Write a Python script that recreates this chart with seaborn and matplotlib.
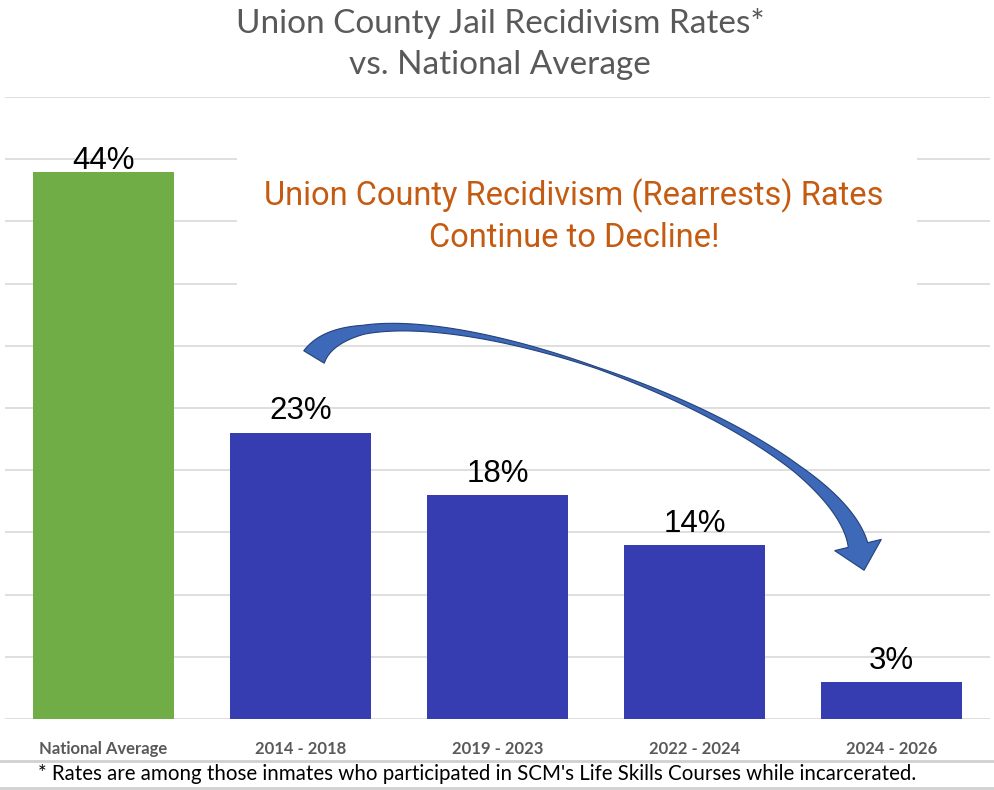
import numpy as np
import pandas as pd
import matplotlib
matplotlib.use('Agg')
import matplotlib.pyplot as plt
from matplotlib.patches import Polygon, Rectangle
from matplotlib.lines import Line2D
import seaborn as sns

# data
categories = ['National Average', '2014 - 2018', '2019 - 2023', '2022 - 2024', '2024 - 2026']
rates = [44, 23, 18, 14, 3]
groups = ['national', 'county', 'county', 'county', 'county']
bar_colors = {'national': '#70AD47', 'county': '#363DB0'}

title = 'Union County Jail Recidivism Rates*\nvs. National Average'
callout = 'Union County Recidivism (Rearrests) Rates\nContinue to Decline!'
footnote = "* Rates are among those inmates who participated in SCM's Life Skills Courses while incarcerated."

# gap (px) between each value label baseline and its bar top
label_gap = [3, 14, 13, 13, 13]

W, H = 994, 790


def fx(x):
    return x / W


def fy(y):
    return 1 - y / H


sns.set_theme(style='white')
plt.rcParams['font.family'] = ['Lato', 'DejaVu Sans']

df = pd.DataFrame({'period': categories, 'rate': rates, 'group': groups})

fig = plt.figure(figsize=(W / 100, H / 100), dpi=100)
ax = fig.add_axes([fx(5), fy(719), fx(990) - fx(5), fy(97) - fy(719)])

sns.barplot(data=df, x='period', y='rate', hue='group', palette=bar_colors,
            dodge=False, width=0.72, legend=False, saturation=1, linewidth=0,
            ax=ax, zorder=3)

ax.set_ylim(0, 50)
ax.set_xlim(-0.5, 4.5)
ax.set_yticks(np.arange(0, 51, 5))
ax.yaxis.grid(True, color='#D9D9D9', linewidth=1.2, zorder=0)
ax.set_axisbelow(True)
ax.tick_params(axis='y', left=False, labelleft=False)
ax.tick_params(axis='x', bottom=False, pad=10)
for s in ax.spines.values():
    s.set_visible(False)
ax.set_xlabel('')
ax.set_ylabel('')
ax.set_xticks(range(len(categories)))
ax.set_xticklabels(categories, fontsize=12, fontweight='bold', color='#595959')

for i, v in enumerate(rates):
    ax.annotate(f'{v}%', (i, v), xytext=(0, label_gap[i]), textcoords='offset pixels',
                ha='center', va='baseline', fontsize=22.5, color='black',
                family=['Liberation Sans', 'DejaVu Sans'], zorder=5,
                annotation_clip=False)

# white panel behind the callout text hides the grid
ax.add_patch(Rectangle((fx(237), fy(300)), fx(917) - fx(237), fy(130) - fy(300),
                       transform=fig.transFigure, facecolor='white', edgecolor='none', zorder=1))
fig.text(fx(574), fy(216), callout, ha='center', va='center', fontsize=23.5,
         color='#C55A11', linespacing=1.35, family=['Roboto', 'DejaVu Sans'])

fig.text(0.503, fy(44), title, ha='center', va='center', fontsize=24,
         color='#595959', linespacing=1.42)

# curved block arrow
P = np.array([[314, 357], [370, 260], [830, 420], [858, 545]], dtype=float)
t = np.linspace(0, 1, 200)[:, None]
C = ((1 - t) ** 3) * P[0] + 3 * ((1 - t) ** 2) * t * P[1] + 3 * (1 - t) * t ** 2 * P[2] + t ** 3 * P[3]
d = np.gradient(C, axis=0)
d /= np.linalg.norm(d, axis=1)[:, None]
n = np.column_stack([-d[:, 1], d[:, 0]])
w = np.interp(t[:, 0], [0, 0.15, 0.5, 0.8, 1.0], [24, 9, 1.5, 8, 20])
left = C + n * w[:, None] / 2
right = C - n * w[:, None] / 2
tip = C[-1] + d[-1] * 26
barb_l = C[-1] + n[-1] * 24
barb_r = C[-1] - n[-1] * 24
pts = np.vstack([left, barb_l, tip, barb_r, right[::-1]])
pts_fig = np.column_stack([fx(pts[:, 0]), fy(pts[:, 1])])
fig.add_artist(Polygon(pts_fig, closed=True, transform=fig.transFigure,
                       facecolor='#3E68B8', edgecolor='#24427A', linewidth=0.8, zorder=6))

# footnote box
for yy in (761, 788):
    fig.add_artist(Line2D([0, 1], [fy(yy), fy(yy)], transform=fig.transFigure,
                          color='#D0D0D0', linewidth=2))
fig.text(fx(38), fy(774), footnote, ha='left', va='center', fontsize=14.8,
         color='black', family=['Lato', 'DejaVu Sans'])

fig.savefig('out.png', dpi=100)
